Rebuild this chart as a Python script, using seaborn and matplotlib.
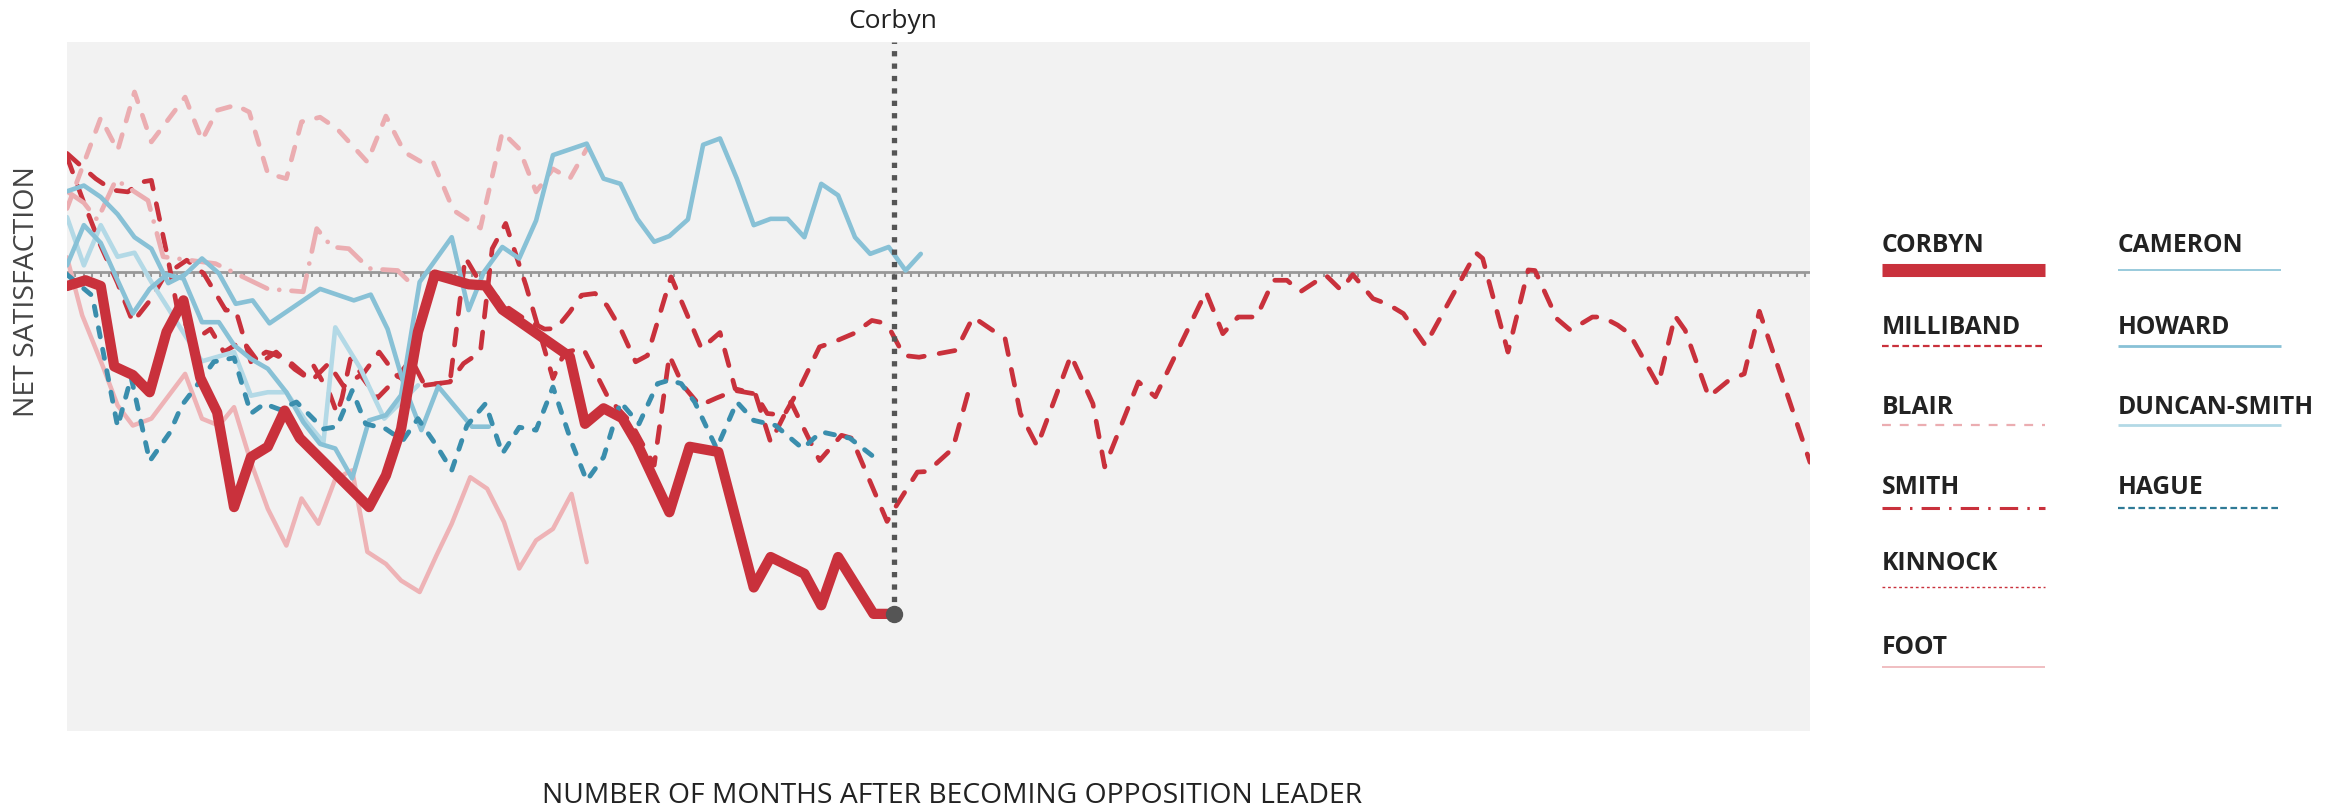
import pandas as pd
import seaborn as sns
from matplotlib import pyplot as plt

# months after becoming leader / net satisfaction
corbyn_m = [0, 1.1, 2.0, 2.8, 3.9, 4.9, 5.9, 6.9, 7.9, 8.9, 9.9, 10.9, 11.9, 12.9, 13.8, 17.9, 18.9,
            19.8, 20.8, 21.8, 23.8, 24.8, 25.8, 29.8, 30.7, 31.8, 32.9, 33.8, 35.7, 36.9, 38.6, 40.7,
            41.7, 43.7, 44.7, 45.7, 47.8, 49.0]
corbyn_v = [-2.5, -1.5, -2.5, -16.5, -18, -21, -10.5, -5, -18.5, -24.5, -41, -32.3, -30.5, -24.2, -29,
            -41, -35.5, -27.4, -10.5, -0.5, -2.2, -2.4, -6.6, -14.8, -26.5, -23.8, -25.5, -30, -41.9,
            -30.5, -31.4, -55, -49.7, -52.6, -58.1, -49.7, -59.6, -59.6]

milliband_m = [0, 1, 2, 3, 3.9, 5, 5.8, 7.1, 8.1, 9.4, 10, 10.9, 11.8, 12.2, 13.2, 14.1, 14.6, 15.6, 16,
               16.3, 16.8, 17.5, 18.5, 19.5, 20.5, 21.2, 22.7, 23.6, 24.3, 26, 27, 28.3, 29, 29.8, 30.5,
               31.3, 32, 32.8, 33.7, 34.4, 35.8, 37.1, 37.6, 38.7, 39.6, 40.8, 41.7, 42.9, 44.6, 45.9,
               46.5, 48.6, 49.1, 50.4, 51, 52.5, 53.6]
milliband_v = [20, 12, 4.5, -2, -8.8, -4.7, -0.6, 2, -0.3, -6.7, -6.7, -15.7, -14, -14.3, -15.7, -18,
               -16.3, -21.5, -24.7, -22, -15.2, -18, -14, -18, -19.8, -19.8, -19.2, 2.5, -1, -6, -8,
               -10, -9.9, -7, -4.1, -3.8, -5.9, -9.9, -15.7, -14.6, -0.9, -9.9, -13.4, -10.6, -20.4,
               -21.3, -29.7, -22.7, -32.9, -28.5, -29, -43.5, -41, -34.9, -34.8, -30.8, -19]

kinnock_m = [0, 0.8, 1.7, 2.7, 3.6, 4.4, 5.0, 6.0, 6.5, 7.5, 8.5, 9.3, 10.4, 11.4, 12.4, 13.5, 14.5,
             15.5, 16.4, 17.4, 18.4, 19.4, 20.4, 21.2, 22.7, 23.5, 24.5, 25.2, 26, 27.2, 28, 28.8,
             29.5, 30.6, 31.1, 32.1, 33.4, 34.8, 35.7, 36.5, 37.5, 38.5, 39.6, 40.8, 41.5, 42.5, 43.5,
             44.6, 45.4, 46.6, 47.7, 48.2, 48.8, 49.6, 50.5, 52.7, 53.7, 54.7, 55.6, 56.5, 57.5, 59.5,
             60.8, 61.5, 63.5, 64.5, 67.5, 68.5, 69.4, 70.5, 71.5, 72.3, 73.1, 74.6, 75.5, 76.2, 77.4,
             78.3, 79.2, 80.5, 83.5, 83.9, 85.4, 86.6, 87, 88.3, 89.1, 90.4, 91, 91.9, 92.6, 94.3,
             95.3, 95.9, 97.3, 98.5, 99.4, 100.3, 103.3]
kinnock_v = [20.6, 18.5, 16.2, 14.2, 13.9, 15.6, 15.9, 2, -5.9, -12, -10, -14, -12, -16, -14, -17, -19,
             -16, -20, -18, -22, -19, -15.2, -19.8, -19.2, -16, -14, 4, 8.4, -2.4, -10.5, -18.6, -14,
             -13.4, -16.3, -22.1, -26.2, -33.7, -14.6, -19.8, -23.3, -22, -20.7, -21.3, -24.7, -25,
             -19.8, -13.1, -12.3, -10.8, -8.5, -8.8, -10.2, -14.6, -14.9, -13.7, -7.9, -9.9, -11.7,
             -24.7, -30.4, -14.6, -23, -34, -19.2, -21.8, -3.5, -10.8, -7.9, -7.9, -1.5, -1.5, -3.5,
             -0.6, -3.2, -0.5, -4.7, -5.7, -7.3, -12.8, 3.3, 2.3, -14, 0.3, 0.2, -8.2, -10.2, -7.9,
             -7.9, -9.3, -10.8, -19.8, -7.7, -10.2, -21.8, -18.9, -17.8, -6.9, -33.2]

blair_m = [0, 2.0, 3.0, 4.0, 5.0, 7.0, 8.0, 8.9, 10.0, 10.8, 11.9, 13.0, 13.9, 15.0, 16.0, 17.8, 18.9,
           20.0, 21.0, 21.7, 22.9, 24.5, 25.8, 26.8, 27.8, 28.8, 29.8, 30.8]
blair_v = [11, 26.8, 21.1, 31.3, 22.6, 30.4, 22.9, 28.1, 29.0, 27.8, 17.1, 16.2, 26.1, 26.9, 24.9, 19.1,
           27.1, 20.8, 19.1, 19.1, 10.7, 7.6, 24.3, 21.4, 13.9, 17.9, 16.2, 21.4]

smith_m = [0, 1.0, 1.8, 2.9, 3.7, 4.8, 5.7, 8.8, 11.9, 14.0, 14.8, 15.7, 16.7, 17.5, 18.0, 19.6, 20.4]
smith_v = [14, 12, 9, 16, 14.5, 12.4, 2.6, 1.4, -3, -3.5, 7.5, 4.3, 4, 1.7, 0.5, 0.2, -2.1]

foot_m = [0, 0.9, 2.1, 3.0, 3.9, 5.0, 7.0, 8.0, 9.0, 9.9, 10.9, 11.9, 13.0, 13.9, 14.9, 15.9, 16.9,
          17.8, 18.9, 19.8, 20.9, 21.9, 22.8, 23.9, 24.9, 25.9, 26.8, 27.8, 28.8, 29.9, 30.8]
foot_v = [2.5, -7.6, -16.3, -23.3, -26.8, -25.6, -17.8, -25.6, -26.8, -23.6, -33.2, -41.3, -47.7, -39.5,
          -43.9, -36.1, -34.6, -48.8, -50.9, -53.8, -55.8, -49.4, -43.9, -35.8, -37.8, -43.6, -51.7,
          -46.8, -44.8, -38.7, -50.6]

cameron_m = [0, 1, 2, 3, 3.9, 4.9, 5.9, 6.9, 8, 9, 9.9, 10.9, 11.9, 13, 14, 15, 15.9, 16.9, 17.9, 18.9,
             19.8, 20.9, 22.8, 23.8, 24.7, 25.8, 26.8, 27.8, 28.8, 30.8, 31.8, 32.8, 33.8, 34.8, 35.7,
             36.8, 37.7, 38.7, 39.7, 40.7, 41.7, 42.7, 43.7, 44.7, 45.7, 46.7, 47.6, 48.7, 49.7, 50.6]
cameron_v = [1.1, 8.1, 5, -1.5, -7.3, -3, -0.5, -1.2, -8.8, -8.8, -12.8, -15.2, -16.9, -21, -26.2, -30,
             -30.8, -36, -25.9, -25, -21.5, -1.8, 6.0, -6.7, -0.1, 4.3, 2.3, 8.9, 20.3, 22.3, 16.2, 15.3,
             9.2, 5.2, 6.2, 9.1, 22.1, 23.2, 16.2, 8.1, 9.2, 9.2, 6.0, 15.3, 13.3, 6.0, 3.1, 4.3, 0.2,
             3.1]

howard_m = [0, 1, 2, 3, 4, 5, 6, 7, 8, 9, 10, 11, 12, 15, 16, 17, 18, 19, 20, 21, 22, 24, 25]
howard_v = [14, 15, 13, 10, 6, 4, -2, -0.5, 2.3, -0.3, -5.6, -5, -9, -3, -4, -5, -4, -10, -20, -27.6,
            -20, -27, -27]

duncan_smith_m = [0, 1, 2, 3, 4, 5, 6, 7, 8, 9.9, 10.9, 11.9, 13, 14.2, 15.2, 15.9, 17.4, 18.8, 20.8]
duncan_smith_v = [9.5, 1.1, 8.1, 2.6, 3.3, -1.8, -6.4, -11.1, -15.6, -14, -21.6, -21, -21, -26.2, -29.7,
                  -9.7, -16.9, -25.6, -19.8]

hague_m = [0, 1.5, 3, 3.8, 4.9, 6.1, 6.8, 7.7, 8.7, 9.9, 10.9, 11.7, 12.6, 13.6, 15.2, 16.0, 16.9, 17.7,
           18.9, 19.9, 20.8, 21.9, 22.8, 23.7, 24.8, 25.8, 26.8, 27.8, 28.8, 29.9, 30.8, 31.8, 32.8,
           33.9, 35.0, 35.7, 36.4, 37.2, 38.5, 39.7, 40.7, 42.0, 43.6, 44.7, 46.4, 47.7]
hague_v = [-0.5, -4.2, -27, -18.4, -33, -28, -23.3, -19.8, -15.7, -15, -24.7, -23, -24, -22.7, -27.4,
           -27, -20.7, -26.5, -27.4, -29.4, -25.6, -30.3, -34.6, -26.8, -23, -31.7, -27.1, -27.6,
           -20.1, -29.7, -36.4, -32.3, -22.7, -26.5, -19.5, -18.9, -19.5, -22.7, -30.8, -22.7, -25.9,
           -26.8, -30.8, -27.9, -29, -32]

series = {
    "Kinnock": (kinnock_m, kinnock_v),
    "Milliband": (milliband_m, milliband_v),
    "Foot": (foot_m, foot_v),
    "Blair": (blair_m, blair_v),
    "Smith": (smith_m, smith_v),
    "Duncan-Smith": (duncan_smith_m, duncan_smith_v),
    "Howard": (howard_m, howard_v),
    "Cameron": (cameron_m, cameron_v),
    "Hague": (hague_m, hague_v),
    "Corbyn": (corbyn_m, corbyn_v),
}
frames = []
for name, (m, v) in series.items():
    frames.append(pd.DataFrame({"leader": name, "month": m, "net": v}))
df = pd.concat(frames, ignore_index=True)

red = "#c9313c"
pink = "#ebadb1"
blue = "#88c1d6"
colors = {
    "Corbyn": red, "Milliband": red, "Kinnock": red, "Blair": pink, "Smith": pink,
    "Foot": "#eeb3b6", "Cameron": blue, "Howard": blue, "Duncan-Smith": "#b3d9e6",
    "Hague": "#3a8ead",
}
dashes = {
    "Corbyn": "", "Milliband": (3.4, 3.2), "Kinnock": (3.4, 3.2), "Blair": (2.8, 3.0),
    "Smith": (6.0, 2.6, 0.01, 2.6), "Foot": "", "Cameron": "", "Howard": "",
    "Duncan-Smith": "", "Hague": (1.9, 2.6),
}
widths = {
    "Corbyn": 7.4, "Milliband": 3.4, "Kinnock": 3.4, "Blair": 3.4, "Smith": 3.4, "Foot": 3.2,
    "Cameron": 3.3, "Howard": 3.3, "Duncan-Smith": 3.3, "Hague": 3.5,
}
order = list(series.keys())

sns.set_theme(style="white")
plt.rcParams["font.family"] = ["Open Sans", "DejaVu Sans"]

fig = plt.figure(figsize=(23.38, 8.11), dpi=100)
ax = fig.add_axes([67 / 2338, 80 / 811, 1743 / 2338, 689 / 811])
ax.set_facecolor("#f2f2f2")

ax.axhline(0, color="#999999", lw=2.0, zorder=1)
ticks = [i * 0.5 for i in range(0, 208)]
ax.vlines(ticks, -1.0, 0, color="#999999", lw=1.5, zorder=1)

sns.lineplot(
    data=df, x="month", y="net", hue="leader", style="leader", size="leader",
    hue_order=order, style_order=order, size_order=order,
    palette=colors, dashes=dashes, sizes=widths,
    sort=False, estimator=None, legend=False, ax=ax, zorder=3,
)
for line in ax.lines:
    line.set_dash_capstyle("round")
    line.set_solid_capstyle("round")
    line.set_solid_joinstyle("round")
    line.set_dash_joinstyle("round")

# marker for the latest Corbyn reading
ax.plot([corbyn_m[-1], corbyn_m[-1]], [corbyn_v[-1], 40], color="#555555", lw=3.8,
        dashes=(1, 1.35), zorder=5)
ax.plot(corbyn_m[-1], corbyn_v[-1], "o", color="#555555", ms=11.5, zorder=6)

ax.set_xlim(0, 103.3)
ax.set_ylim(-80, 40)
ax.set_xticks([])
ax.set_yticks([])
ax.set_xlabel("")
ax.set_ylabel("")
for s in ax.spines.values():
    s.set_visible(False)

fig.text(893 / 2338, 1 - 22 / 811, "Corbyn", ha="center", va="center", fontsize=19, color="#222222")
fig.text(952 / 2338, 1 - 796 / 811, "NUMBER OF MONTHS AFTER BECOMING OPPOSITION LEADER",
         ha="center", va="center", fontsize=20.3, color="#222222")
fig.text(27 / 2338, 1 - 292 / 811, "NET SATISFACTION", ha="center", va="center", rotation=90,
         fontsize=20.5, color="#444444")

# legend, drawn on an overlay in pixel units
lax = fig.add_axes([0, 0, 1, 1])
lax.set_xlim(0, 2338)
lax.set_ylim(811, 0)
lax.axis("off")
legend_items = [
    ("CORBYN", 1882, 246, 270, red, 9.4, ""),
    ("MILLIBAND", 1882, 327, 346, red, 1.6, (3, 1.6)),
    ("BLAIR", 1882, 407, 425, pink, 1.6, (4, 4)),
    ("SMITH", 1882, 487, 508, red, 2.2, (6, 3, 0.8, 3)),
    ("KINNOCK", 1882, 564, 587, red, 1.0, (2, 2)),
    ("FOOT", 1882, 647, 667, "#eeb3b6", 1.2, ""),
    ("CAMERON", 2118, 246, 270, blue, 1.2, ""),
    ("HOWARD", 2118, 327, 346, blue, 2.0, ""),
    ("DUNCAN-SMITH", 2118, 407, 425, "#b3d9e6", 2.0, ""),
    ("HAGUE", 2118, 487, 508, "#2f7a96", 1.6, (3, 1.6)),
]
for label, x0, ty, ly, col, lw, dash in legend_items:
    lax.text(x0, ty, label, ha="left", va="center", fontsize=17.7, fontweight="bold", color="#222222")
    if dash:
        lax.plot([x0, x0 + 163], [ly, ly], color=col, lw=lw, dashes=dash, solid_capstyle="butt")
    else:
        lax.plot([x0, x0 + 163], [ly, ly], color=col, lw=lw, solid_capstyle="butt")

fig.savefig("out.png", dpi=100)
